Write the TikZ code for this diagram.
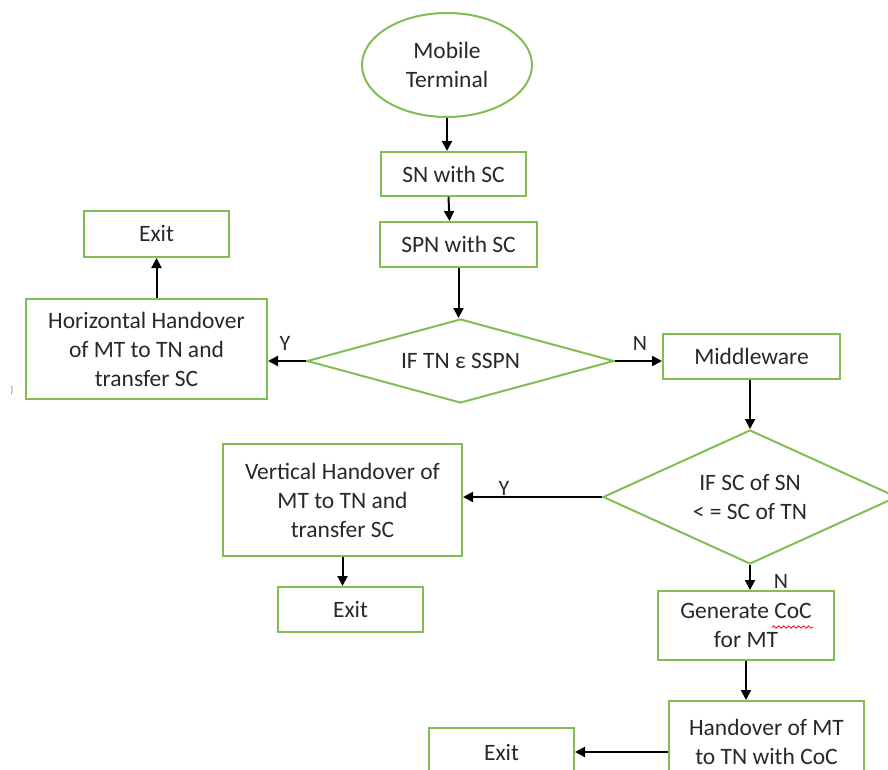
\documentclass[tikz,border=0pt]{standalone}
\usepackage{fontspec}
\setmainfont{Carlito}
\usetikzlibrary{arrows.meta,positioning,shapes.geometric,decorations.pathmorphing}
\definecolor{g1}{RGB}{128,190,82}
\definecolor{t1}{RGB}{40,40,40}

\begin{document}
\begin{tikzpicture}[x=0.5pt, y=-0.5pt,
    box/.style={rectangle, draw=g1, line width=1pt, inner sep=0pt, align=center, text=t1, font=\fontsize{11.75}{14.5}\selectfont},
    term/.style={ellipse, draw=g1, line width=1pt, inner sep=0pt, align=center, text=t1, font=\fontsize{11.75}{14.5}\selectfont},
    test/.style={diamond, draw=g1, line width=1pt, inner sep=0pt, align=center, text=t1, font=\fontsize{11.75}{14.5}\selectfont},
    flow/.style={-{Triangle[length=5pt, width=5pt]}, line width=1pt},
    lbl/.style={text=t1, font=\fontsize{11}{13}\selectfont}
]
    \useasboundingbox (0,0) rectangle (888,770);

    % Start terminal
    \node[term, minimum width=85pt, minimum height=52pt] (mt) at (447, 65) {Mobile\\Terminal};

    % Central column
    \node[box, minimum width=72.5pt, minimum height=22pt] (sn) at (453.5, 174) {SN with SC};
    \node[box, minimum width=78.5pt, minimum height=22.5pt] (spn) at (458.5, 244.5) {SPN with SC};
    \node[test, aspect=3.65, minimum width=153.5pt, minimum height=42pt] (tst1) at (460.5, 361) {IF TN ε SSPN};

    % Horizontal branch
    \node[box, minimum width=120.5pt, minimum height=50pt] (hh) at (146.5, 349) {Horizontal Handover\\of MT to TN and\\transfer SC};
    \node[box, minimum width=72.5pt, minimum height=23pt] (ex1) at (156.5, 234) {Exit};

    % Middleware and second test
    \node[box, minimum width=88.5pt, minimum height=22.5pt] (mw) at (751.5, 356.5) {Middleware};
    \node[test, aspect=2.19, minimum width=147pt, minimum height=67pt] (tst2) at (750, 497) {IF SC of SN\\< = SC of TN};

    % Vertical branch
    \node[box, minimum width=119.5pt, minimum height=56pt] (vh) at (342.5, 500) {Vertical Handover of\\MT to TN and\\transfer SC};
    \node[box, minimum width=72.5pt, minimum height=22.5pt] (ex2) at (350.5, 609.5) {Exit};

    % CoC branch
    \node[box, minimum width=88pt, minimum height=34.5pt] (gen) at (746, 625.5) {Generate CoC\\for MT};
    \node[box, minimum width=97.5pt, minimum height=40.5pt] (hmt) at (766.5, 741.5) {Handover of MT\\to TN with CoC};
    \node[box, minimum width=72.5pt, minimum height=24pt] (ex3) at (501.5, 752) {Exit};

    % Connectors
    \draw[flow] (mt.south) -- (mt.south |- sn.north);
    \draw[flow] ([xshift=-2.5pt]sn.south) -- ([xshift=-2pt]sn.south |- spn.north);
    \draw[flow] (spn.south) -- (spn.south |- tst1.north);
    \draw[flow] (tst1.west) -- (tst1.west -| hh.east);
    \draw[flow] (ex1.south |- hh.north) -- (ex1.south);
    \draw[flow] (tst1.east) -- (tst1.east -| mw.west);
    \draw[flow] (tst2.north |- mw.south) -- (tst2.north);
    \draw[flow] (tst2.west) -- (tst2.west -| vh.east);
    \draw[flow] (vh.south) -- (vh.south |- ex2.north);
    \draw[flow] (tst2.south) -- (tst2.south |- gen.north);
    \draw[flow] (gen.south) -- (gen.south |- hmt.north);
    \draw[flow] (hmt.west |- ex3.east) -- (ex3.east);

    % Branch labels
    \node[lbl] (y1) at (285, 343) {Y};
    \node[lbl] (n1) at (640, 343) {N};
    \node[lbl] (y2) at (504, 488) {Y};
    \node[lbl] (n2) at (781, 581) {N};

    % Spell-check mark and stray bracket
    \draw[red, line width=0.4pt, decorate, decoration={snake, amplitude=0.6pt, segment length=2.5pt}] (772, 627) -- (813, 627);
    \node[text=gray, font=\fontsize{5}{6}\selectfont] (br) at (12, 391) {)};
\end{tikzpicture}
\end{document}
